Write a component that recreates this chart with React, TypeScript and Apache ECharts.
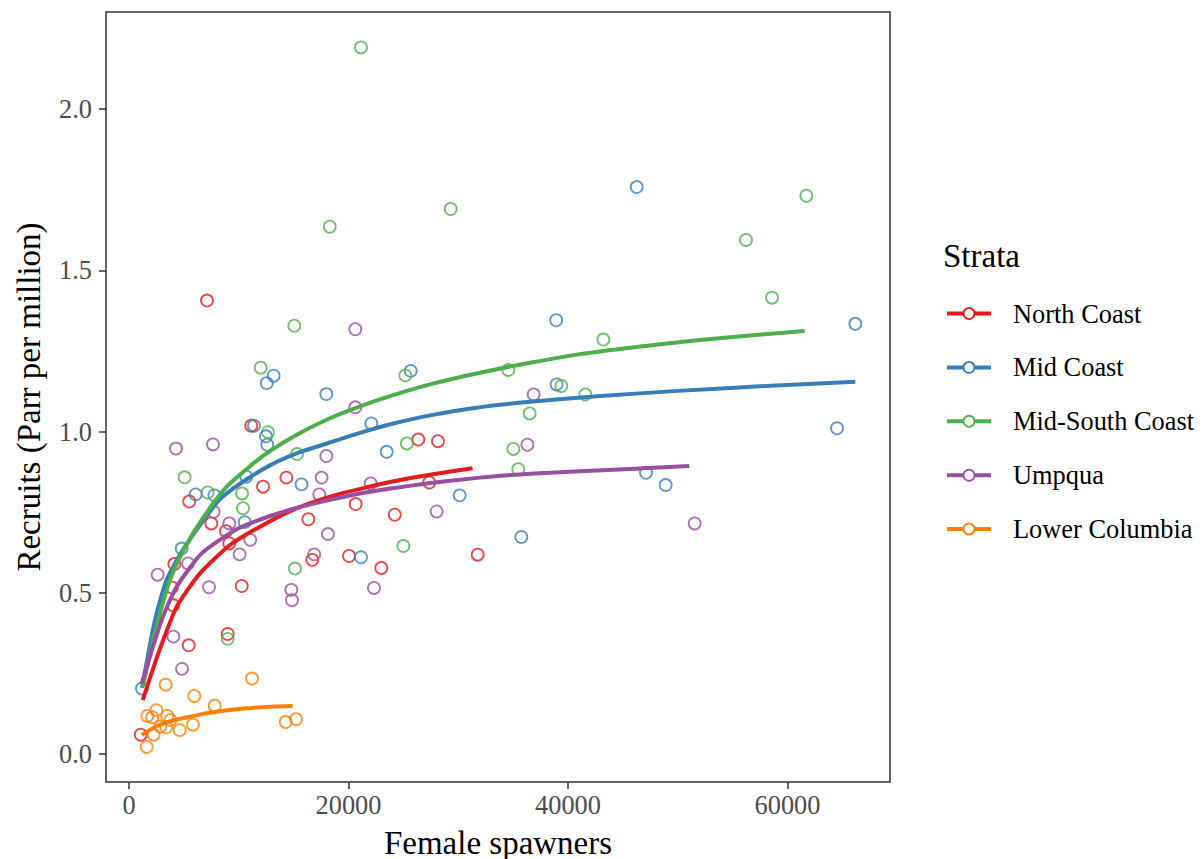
import React, { useEffect, useRef } from "react";
import * as echarts from "echarts";

// ---- Data ----
const strata = ["North Coast", "Mid Coast", "Mid-South Coast", "Umpqua", "Lower Columbia"];
const colors = ["#E41A1C", "#377EB8", "#4DAF4A", "#984EA3", "#FF7F00"];

const xTicks = [0, 20000, 40000, 60000];
const yTicks = [0, 0.5, 1.0, 1.5, 2.0];

// observed points: [female spawners, recruits]
const northCoastPts: [number, number][] = [
  [7107, 1.406], [11140, 1.018], [14340, 0.857], [12210, 0.829], [5490, 0.783],
  [7500, 0.715], [8840, 0.691], [9140, 0.653], [16340, 0.728], [4130, 0.589],
  [16700, 0.602], [20050, 0.614], [3920, 0.516], [10270, 0.521], [4040, 0.461],
  [5440, 0.337], [8990, 0.372], [1070, 0.060], [26360, 0.975], [28150, 0.970],
  [27360, 0.842], [20650, 0.775], [24210, 0.742], [31770, 0.618], [22990, 0.577],
];
const midCoastPts: [number, number][] = [
  [13180, 1.173], [12550, 1.150], [17980, 1.116], [11390, 1.018], [12480, 0.985],
  [12600, 0.959], [10690, 0.860], [15720, 0.836], [6070, 0.805], [7780, 0.802],
  [10540, 0.719], [4800, 0.637], [1180, 0.203], [38930, 1.345], [25670, 1.188],
  [38960, 1.146], [22080, 1.025], [23480, 0.937], [30130, 0.802], [35750, 0.673],
  [21140, 0.610], [46260, 1.758], [66180, 1.334], [64510, 1.010], [47110, 0.872],
  [48900, 0.834],
];
const midSouthPts: [number, number][] = [
  [15060, 1.328], [12000, 1.198], [12660, 0.998], [15310, 0.930], [5070, 0.858],
  [7170, 0.811], [10300, 0.808], [10390, 0.762], [15120, 0.575], [8990, 0.357],
  [43220, 1.285], [25180, 1.174], [34560, 1.191], [39390, 1.141], [41580, 1.115],
  [36510, 1.056], [25320, 0.963], [35020, 0.946], [35470, 0.883], [25000, 0.645],
  [61720, 1.731], [56220, 1.594], [58590, 1.415], [21140, 2.191], [29310, 1.690],
  [18290, 1.635],
];
const umpquaPts: [number, number][] = [
  [20620, 1.317], [20620, 1.075], [4280, 0.947], [7650, 0.960], [17980, 0.924],
  [17550, 0.857], [17340, 0.805], [7710, 0.751], [9140, 0.715], [11050, 0.664],
  [18130, 0.682], [5380, 0.591], [10080, 0.619], [16880, 0.619], [2610, 0.556],
  [7290, 0.517], [14790, 0.509], [14850, 0.477], [4040, 0.364], [4830, 0.264],
  [36870, 1.115], [36300, 0.959], [22020, 0.839], [28030, 0.752], [22320, 0.515],
  [51540, 0.715],
];
const lowerColumbiaPts: [number, number][] = [
  [3340, 0.215], [5950, 0.180], [11210, 0.234], [7810, 0.150], [2490, 0.136],
  [1670, 0.118], [2120, 0.114], [3490, 0.118], [3760, 0.105], [2850, 0.085],
  [3400, 0.083], [4620, 0.074], [5830, 0.091], [2250, 0.060], [1610, 0.022],
  [14280, 0.099], [15220, 0.108],
];

// fitted curves
const northCoastFit: [number, number][] = [
  [1250, 0.167], [2670, 0.312], [4350, 0.457], [6470, 0.560], [9200, 0.648],
  [11940, 0.705], [15000, 0.758], [18310, 0.798], [21050, 0.822], [24000, 0.845],
  [27430, 0.866], [31300, 0.886],
];
const midCoastFit: [number, number][] = [
  [1180, 0.205], [2370, 0.416], [3430, 0.540], [5100, 0.643], [8140, 0.785],
  [10110, 0.838], [12850, 0.895], [15500, 0.935], [18310, 0.966], [21050, 0.996],
  [24000, 1.024], [27430, 1.050], [31500, 1.073], [36540, 1.092], [42980, 1.110],
  [50000, 1.126], [58000, 1.141], [66180, 1.154],
];
const midSouthFit: [number, number][] = [
  [1250, 0.209], [2670, 0.416], [3740, 0.540], [5100, 0.640], [6620, 0.726],
  [8900, 0.829], [12240, 0.925], [15300, 0.990], [18310, 1.041], [21050, 1.078],
  [24000, 1.112], [27430, 1.146], [31980, 1.182], [36540, 1.213], [41090, 1.240],
  [45650, 1.260], [52000, 1.284], [61560, 1.312],
];
const umpquaFit: [number, number][] = [
  [1160, 0.219], [2980, 0.416], [4350, 0.519], [6620, 0.622], [9810, 0.697],
  [12850, 0.738], [15500, 0.765], [18310, 0.788], [21050, 0.808], [24000, 0.824],
  [27430, 0.840], [32000, 0.857], [36540, 0.869], [45650, 0.884], [51050, 0.893],
];
const lowerColumbiaFit: [number, number][] = [
  [1180, 0.059], [2550, 0.087], [4000, 0.104], [5590, 0.116], [7000, 0.126],
  [8630, 0.134], [10200, 0.140], [11660, 0.144], [13300, 0.147], [14910, 0.149],
];

const allPts = [northCoastPts, midCoastPts, midSouthPts, umpquaPts, lowerColumbiaPts];
const allFits = [northCoastFit, midCoastFit, midSouthFit, umpquaFit, lowerColumbiaFit];

const FONT = "'Liberation Serif', 'Times New Roman', serif";

export default function App() {
  const ref = useRef<HTMLDivElement>(null);

  useEffect(() => {
    if (!ref.current) return;
    const chart = echarts.init(ref.current, null, { renderer: "svg" });

    const scatterSeries = strata.map((name, i) => ({
      type: "scatter",
      name,
      data: allPts[i],
      symbol: "circle",
      symbolSize: 12,
      z: 2,
      itemStyle: { color: "rgba(0,0,0,0)", borderColor: colors[i], borderWidth: 1.8 },
      emphasis: { disabled: true },
    }));
    const lineSeries = strata.map((name, i) => ({
      type: "line",
      name: name + " fit",
      data: allFits[i],
      smooth: 0.2,
      showSymbol: false,
      z: 3,
      lineStyle: { color: colors[i], width: 4, cap: "butt", join: "round" },
      emphasis: { disabled: true },
    }));

    const legendTop = 313.5;
    const legendStep = 53.9;
    const legendGraphics: any[] = [
      {
        type: "text",
        left: 943,
        top: 256 - 17,
        style: { text: "Strata", font: `33px ${FONT}`, fill: "#000" },
      },
    ];
    strata.forEach((name, i) => {
      const cy = legendTop + i * legendStep;
      legendGraphics.push({
        type: "line",
        shape: { x1: 947, y1: cy, x2: 991, y2: cy },
        style: { stroke: colors[i], lineWidth: 4 },
      });
      legendGraphics.push({
        type: "circle",
        shape: { cx: 969, cy, r: 5.5 },
        style: { fill: "#fff", stroke: colors[i], lineWidth: 1.8 },
      });
      legendGraphics.push({
        type: "text",
        x: 1013,
        y: cy,
        style: {
          text: name,
          font: `26.4px ${FONT}`,
          fill: "#000",
          textVerticalAlign: "middle",
          verticalAlign: "middle",
        },
      });
    });

    chart.setOption({
      animation: false,
      backgroundColor: "#ffffff",
      textStyle: { fontFamily: FONT },
      grid: {
        left: 106,
        top: 12,
        width: 784,
        height: 770,
        show: true,
        borderColor: "#333333",
        borderWidth: 1.5,
        backgroundColor: "rgba(0,0,0,0)",
        containLabel: false,
        outerBoundsMode: "none",
      },
      xAxis: {
        type: "value",
        min: -2096,
        max: 69340,
        axisLine: { show: false, onZero: false },
        splitLine: { show: false },
        axisTick: {
          show: true,
          customValues: xTicks,
          length: 7,
          lineStyle: { color: "#333333", width: 1.5 },
        },
        axisLabel: {
          customValues: xTicks,
          fontFamily: FONT,
          fontSize: 26.4,
          color: "#4D4D4D",
          margin: 10,
          formatter: (v: number) => String(v),
        },
        name: "Female spawners",
        nameLocation: "middle",
        nameGap: 44,
        nameTextStyle: { fontFamily: FONT, fontSize: 33, color: "#000" },
      },
      yAxis: {
        type: "value",
        min: -0.0868,
        max: 2.3008,
        axisLine: { show: false, onZero: false },
        splitLine: { show: false },
        axisTick: {
          show: true,
          customValues: yTicks,
          length: 7,
          lineStyle: { color: "#333333", width: 1.5 },
        },
        axisLabel: {
          customValues: yTicks,
          fontFamily: FONT,
          fontSize: 26.4,
          color: "#4D4D4D",
          margin: 14,
          formatter: (v: number) => v.toFixed(1),
        },
        name: "Recruits (Parr per million)",
        nameLocation: "middle",
        nameGap: 61,
        nameTextStyle: { fontFamily: FONT, fontSize: 33, color: "#000" },
      },
      legend: { show: false },
      tooltip: { show: false },
      series: [...scatterSeries, ...lineSeries],
      graphic: legendGraphics,
    });

    return () => chart.dispose();
  }, []);

  return (
    <div
      ref={ref}
      style={{ position: "absolute", left: 0, top: 0, width: 1204, height: 859, background: "#fff" }}
    />
  );
}
